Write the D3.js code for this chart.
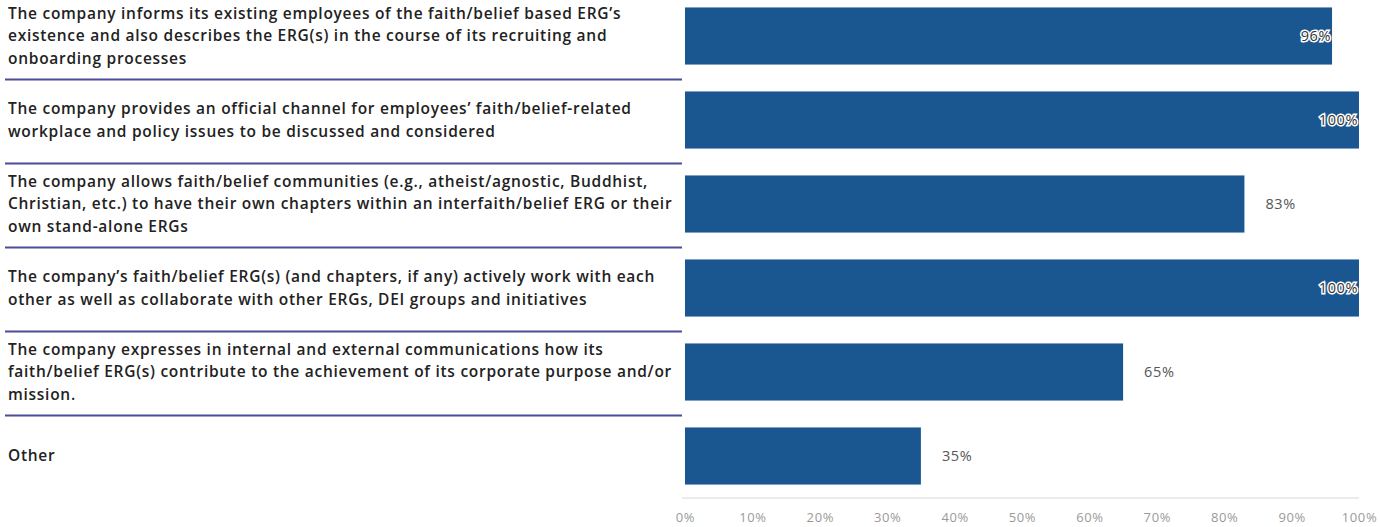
<!DOCTYPE html>
<html>
<head>
<meta charset="utf-8">
<script src="https://cdn.jsdelivr.net/npm/d3@7"></script>
<style>
  body { margin: 0; background: #fff; }
</style>
</head>
<body>
<script>
// chart data
const categories = [
  "The company informs its existing employees of the faith/belief based ERG’s\nexistence and also describes the ERG(s) in the course of its recruiting and\nonboarding processes",
  "The company provides an official channel for employees’ faith/belief-related\nworkplace and policy issues to be discussed and considered",
  "The company allows faith/belief communities (e.g., atheist/agnostic, Buddhist,\nChristian, etc.) to have their own chapters within an interfaith/belief ERG or their\nown stand-alone ERGs",
  "The company’s faith/belief ERG(s) (and chapters, if any) actively work with each\nother as well as collaborate with other ERGs, DEI groups and initiatives",
  "The company expresses in internal and external communications how its\nfaith/belief ERG(s) contribute to the achievement of its corporate purpose and/or\nmission.",
  "Other"
];
const values = [96, 100, 83, 100, 65, 35];
const tickValues = [0, 10, 20, 30, 40, 50, 60, 70, 80, 90, 100];

const width = 1380,
  height = 527,
  plotLeft = 685,
  plotRight = 1359,
  labelLeft = 8,
  labelMaxWidth = 664,
  labelFontSize = 15.5,
  barColor = "#1a5790",
  ruleColor = "#4d4c98",
  textColor = "#222",
  fontFamily = "'Open Sans', 'Noto Sans', sans-serif";

const I = d3.range(values.length);

// scales
const xScale = d3.scaleLinear([0, 100], [plotLeft, plotRight]);
const yScale = d3
  .scaleBand(I, [-6, 498])
  .paddingInner(0.32)
  .paddingOuter(0.16);

const svg = d3
  .select("body")
  .append("svg")
  .attr("width", width)
  .attr("height", height)
  .attr("viewBox", [0, 0, width, height]);

// bars
svg
  .append("g")
  .selectAll("rect")
  .data(I)
  .join("rect")
  .attr("x", xScale(0))
  .attr("y", (i) => yScale(i))
  .attr("width", (i) => xScale(values[i]) - xScale(0))
  .attr("height", yScale.bandwidth())
  .attr("fill", barColor);

// separator rules between the category labels
svg
  .append("g")
  .selectAll("line")
  .data(I.slice(0, -1))
  .join("line")
  .attr("x1", 5)
  .attr("x2", 682)
  .attr("y1", (i) => yScale(i) + yScale.bandwidth() + 15)
  .attr("y2", (i) => yScale(i) + yScale.bandwidth() + 15)
  .attr("stroke", ruleColor)
  .attr("stroke-width", 2);

// category labels, one tspan per line
const lineHeight = 22.5;
const labelGroup = svg
  .append("g")
  .attr("font-family", fontFamily)
  .attr("font-size", labelFontSize)
  .attr("font-weight", 600)
  .attr("fill", textColor);

const labels = labelGroup
  .selectAll("text")
  .data(I)
  .join("text")
  .attr("x", labelLeft);

labels.each(function (i) {
  const lines = categories[i].split("\n");
  const cy = yScale(i) + yScale.bandwidth() / 2;
  const top = cy - ((lines.length - 1) * lineHeight) / 2;
  d3.select(this)
    .selectAll("tspan")
    .data(lines)
    .join("tspan")
    .attr("x", labelLeft)
    .attr("y", (d, k) => top + k * lineHeight)
    .attr("dy", "0.35em")
    .text((d) => d);
});

// spread letters so the longest line reaches the bars, like the wider original face
let longest = 0,
  longestChars = 1;
labelGroup.selectAll("tspan").each(function () {
  const w = this.getComputedTextLength();
  if (w > longest) {
    longest = w;
    longestChars = this.textContent.length;
  }
});
labelGroup.attr("letter-spacing", (labelMaxWidth - longest) / longestChars);

// value labels: inside the bar when it is nearly full, otherwise after it
svg
  .append("g")
  .attr("font-family", fontFamily)
  .attr("font-size", 14.5)
  .attr("letter-spacing", 0.6)
  .selectAll("text")
  .data(I)
  .join("text")
  .attr("x", (i) => (values[i] > 90 ? xScale(values[i]) - 1 : xScale(values[i]) + 21))
  .attr("y", (i) => yScale(i) + yScale.bandwidth() / 2)
  .attr("dy", "0.35em")
  .attr("text-anchor", (i) => (values[i] > 90 ? "end" : "start"))
  .attr("fill", (i) => (values[i] > 90 ? "#333" : "#555"))
  .attr("stroke", (i) => (values[i] > 90 ? "#fff" : "none"))
  .attr("stroke-width", 3)
  .attr("paint-order", "stroke")
  .text((i) => values[i] + "%");

// x axis
const xAxis = d3
  .axisBottom(xScale)
  .tickValues(tickValues)
  .tickFormat((d) => d + "%")
  .tickSize(0)
  .tickPadding(15);

svg
  .append("g")
  .attr("transform", `translate(0,498)`)
  .call(xAxis)
  .call((g) => g.select(".domain").attr("stroke", "#d8d8d8").attr("d", `M${plotLeft - 3},0H${plotRight}`))
  .call((g) =>
    g
      .selectAll(".tick text")
      .attr("font-size", 13)
      .attr("font-family", fontFamily)
      .attr("letter-spacing", 0.6)
      .attr("fill", "#9a9a9a")
  );
</script>
</body>
</html>
